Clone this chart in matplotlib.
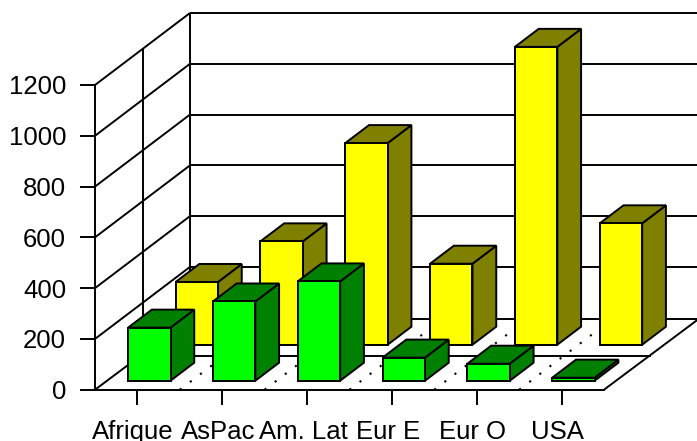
import matplotlib
matplotlib.use("Agg")
import matplotlib.pyplot as plt
from matplotlib.patches import Polygon
from matplotlib.transforms import ScaledTranslation

categories = ["Afrique", "AsPac", "Am. Lat", "Eur E", "Eur O", "USA"]
front_vals = [209, 312, 391, 91, 67, 12]
back_vals = [247, 407, 794, 319, 1173, 478]
y_ticks = [0, 200, 400, 600, 800, 1000, 1200]

W, H = 697, 441
plt.rcParams['font.family'] = ['Liberation Sans', 'DejaVu Sans']

fig = plt.figure(figsize=(W / 100, H / 100), dpi=100)
# axes = front plane of the 3D box, everything behind it is drawn unclipped
ax = fig.add_axes([95 / W, 1 - 389.7 / H, 509 / W, 304.7 / H])
ax.set_xlim(0, 6)
ax.set_ylim(0, 1200)
ax.patch.set_visible(False)
for s in ["top", "right"]:
    ax.spines[s].set_visible(False)

LW = 1.4
# full depth of the box, in data units
DX = 95 / 509 * 6
DY = 72 / 304.7 * 1200


def pt(x, v, d):
    return (x + d * DX, v + d * DY)


def line(p0, p1, **kw):
    ax.plot([p0[0], p1[0]], [p0[1], p1[1]], color="black", lw=kw.pop("lw", LW),
            clip_on=False, solid_capstyle="butt", **kw)


def bar3d(i, val, d0, d1, face, shade):
    x0, x1 = i + 0.25, i + 0.75
    front = [pt(x0, 0, d0), pt(x1, 0, d0), pt(x1, val, d0), pt(x0, val, d0)]
    side = [pt(x1, 0, d0), pt(x1, 0, d1), pt(x1, val, d1), pt(x1, val, d0)]
    top = [pt(x0, val, d0), pt(x1, val, d0), pt(x1, val, d1), pt(x0, val, d1)]
    for verts, col in [(side, shade), (top, shade), (front, face)]:
        ax.add_patch(Polygon(verts, closed=True, facecolor=col, edgecolor="black",
                             lw=LW, clip_on=False, zorder=3, joinstyle="miter"))


# walls
for v in y_ticks:
    base = v if v else -4  # floor sits a pixel lower at the back
    line(pt(0, v, 0), pt(0, base, 1))
    line(pt(0, base, 1), pt(6.1, base, 1))
line(pt(0, -8, 0.5), pt(0, 1200, 0.5))
line(pt(0, -4, 1), pt(0, 1200, 1))

# floor
line(pt(0, -8, 0.5), pt(6, -8, 0.5))
line(pt(6, 0, 0), pt(6, -4, 1))
for i in range(1, 6):
    ax.plot(*zip(pt(i, 0, 0), pt(i, 0, 1)), color="black", lw=1.5, clip_on=False,
            linestyle=(0, (1, 5.1)))

# back row then front row
for i, v in enumerate(back_vals):
    bar3d(i, v, 0.625, 0.875, "#ffff00", "#808000")
for i, v in enumerate(front_vals):
    bar3d(i, v, 0.125, 0.375, "#00ff00", "#008000")

ax.spines["left"].set_linewidth(LW)
ax.spines["bottom"].set_linewidth(LW)
ax.set_yticks(y_ticks)
ax.set_xticks([i + 0.5 for i in range(6)])
ax.set_xticklabels(categories)
ax.tick_params(axis="both", length=10.8, width=LW, labelsize=18.5, color="black",
               labelcolor="black")
ax.tick_params(axis="x", pad=11)
ax.tick_params(axis="y", pad=10)
shift = ScaledTranslation(-3 / 72, 0, fig.dpi_scale_trans)
for lab in ax.get_xticklabels():
    lab.set_transform(lab.get_transform() + shift)

fig.savefig("out.png", dpi=100)
